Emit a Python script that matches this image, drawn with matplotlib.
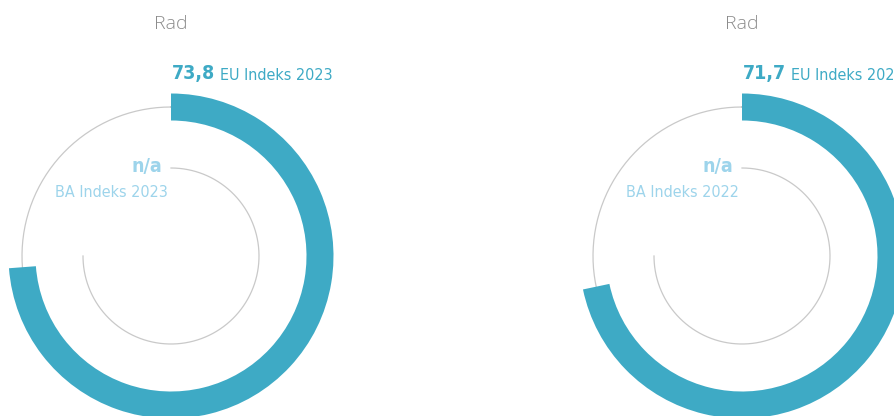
import numpy as np
import matplotlib
matplotlib.use('Agg')
import matplotlib.pyplot as plt

# data for the two gauges
titles = ['Rad', 'Rad']
eu_values = [73.8, 71.7]
eu_labels = ['EU Indeks 2023', 'EU Indeks 2022']
ba_values = ['n/a', 'n/a']
ba_labels = ['BA Indeks 2023', 'BA Indeks 2022']

blue = '#3EAAC5'
light_blue = '#9DD4EB'
grey_line = '#C9C9C9'
grey_text = '#8C8C8C'

W, H = 894, 416
fig = plt.figure(figsize=(W / 100, H / 100), dpi=100)

centers_x = [171, 742]   # pixel centres of the gauges
center_y = 256
rmax = 170
ring_r = 149
ring_w = 27
inner_r = 88
inner_span = 0.75        # inner track covers 3/4 of the circle


def fx(px):
    return px / W


def fy(py):
    return (H - py) / H


narrow = dict(family='DejaVu Sans', fontstretch='condensed')

for i in range(len(titles)):
    cx = centers_x[i]
    ax = fig.add_axes([fx(cx - rmax), fy(center_y + rmax), 2 * rmax / W, 2 * rmax / H],
                      projection='polar')
    ax.set_theta_zero_location('N')
    ax.set_theta_direction(-1)
    ax.set_rlim(0, rmax)
    ax.set_axis_off()

    full = np.linspace(0, 2 * np.pi, 400)
    ax.plot(full, np.full_like(full, ring_r), color=grey_line, lw=0.9, zorder=1)
    part = np.linspace(0, 2 * np.pi * inner_span, 300)
    ax.plot(part, np.full_like(part, inner_r), color=grey_line, lw=0.9, zorder=1)

    ax.bar(0, ring_w, width=2 * np.pi * eu_values[i] / 100, bottom=ring_r - ring_w / 2,
           align='edge', color=blue, linewidth=0, zorder=2)

    # texts
    fig.text(fx(cx), fy(29), titles[i], ha='center', va='baseline', fontsize=14,
             color=grey_text, family=['Open Sans', 'DejaVu Sans'], fontweight='light')
    val = fig.text(fx(cx + 1), fy(79), ('%.1f' % eu_values[i]).replace('.', ','),
                   ha='left', va='baseline', fontsize=14, fontweight='bold',
                   color=blue, **narrow)
    plt.annotate(eu_labels[i], xy=(1, 0), xycoords=val, xytext=(5, 0),
                 textcoords='offset pixels', ha='left', va='bottom',
                 fontsize=11.5, color=blue, **narrow)
    fig.text(fx(cx - 9), fy(172), ba_values[i], ha='right', va='baseline', fontsize=14,
             fontweight='bold', color=light_blue, **narrow)
    fig.text(fx(cx - 3), fy(197), ba_labels[i], ha='right', va='baseline', fontsize=11.5,
             color=light_blue, **narrow)

plt.savefig('out.png', dpi=100)
plt.close()
